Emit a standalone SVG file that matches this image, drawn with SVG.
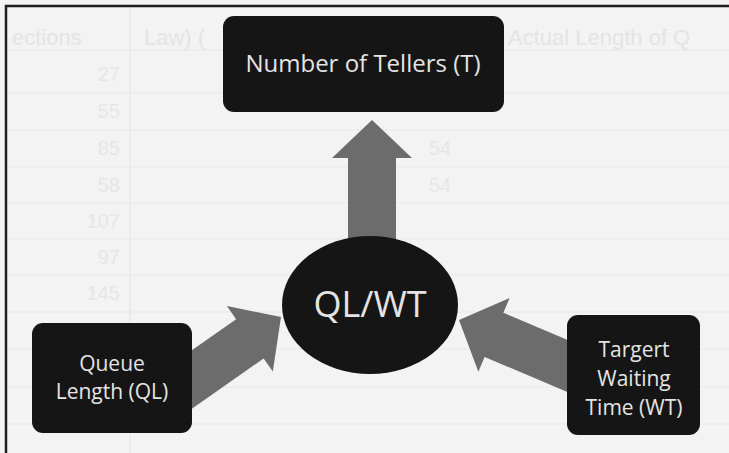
<svg xmlns="http://www.w3.org/2000/svg" width="729" height="453" viewBox="0 0 729 453">
  <defs>
    <style>
      .bg-line { stroke: #e7e7e7; stroke-width: 1.2; fill: none; }
      .bg-text { font-family: "Liberation Sans", Arial, sans-serif; font-size: 20px; fill: #e6e6e6; }
      .bg-head { font-family: "Liberation Sans", Arial, sans-serif; font-size: 22px; fill: #e4e4e4; }
      .box { fill: #151515; }
      .label { font-family: "Open Sans", "Noto Sans", sans-serif; fill: #e4e4e4; text-anchor: middle; }
      .arrow { fill: #6c6c6c; }
    </style>
    <!-- block arrow pointing along +x, tip at the origin -->
    <path id="blockArrow" d="M0,0 L-38,-40 L-38,-24 L-140,-24 L-140,24 L-38,24 L-38,40 Z"/>
  </defs>

  <!-- page background with faint table behind -->
  <rect x="0" y="0" width="729" height="453" fill="#f3f3f3"/>
  <g id="background-table">
    <line class="bg-line" x1="8" y1="50" x2="729" y2="50"/>
    <line class="bg-line" x1="8" y1="93" x2="729" y2="93"/>
    <line class="bg-line" x1="8" y1="130" x2="729" y2="130"/>
    <line class="bg-line" x1="8" y1="167" x2="729" y2="167"/>
    <line class="bg-line" x1="8" y1="203" x2="729" y2="203"/>
    <line class="bg-line" x1="8" y1="239" x2="729" y2="239"/>
    <line class="bg-line" x1="8" y1="275" x2="729" y2="275"/>
    <line class="bg-line" x1="8" y1="312" x2="729" y2="312"/>
    <line class="bg-line" x1="8" y1="349" x2="729" y2="349"/>
    <line class="bg-line" x1="8" y1="387" x2="729" y2="387"/>
    <line class="bg-line" x1="8" y1="424" x2="729" y2="424"/>
    <line class="bg-line" x1="130" y1="8" x2="130" y2="453"/>
    <text class="bg-head" x="12" y="45">ections</text>
    <text class="bg-head" x="144" y="45">Law) (</text>
    <text class="bg-head" x="508" y="45">Actual Length of Q</text>
    <g text-anchor="end">
      <text class="bg-text" x="120" y="81">27</text>
      <text class="bg-text" x="120" y="118">55</text>
      <text class="bg-text" x="120" y="155">85</text>
      <text class="bg-text" x="120" y="192">58</text>
      <text class="bg-text" x="120" y="228">107</text>
      <text class="bg-text" x="120" y="264">97</text>
      <text class="bg-text" x="120" y="300">145</text>
    </g>
    <g text-anchor="middle">
      <text class="bg-text" x="440" y="155">54</text>
      <text class="bg-text" x="440" y="192">54</text>
    </g>
  </g>

  <!-- frame -->
  <path d="M729,6 L6,6 L6,453" fill="none" stroke="#1e1e1e" stroke-width="2.5"/>

  <!-- connectors -->
  <g id="connectors">
    <use href="#blockArrow" class="arrow" transform="translate(372,120) rotate(-90)"/>
    <use href="#blockArrow" class="arrow" transform="translate(281,317) rotate(-35)"/>
    <use href="#blockArrow" class="arrow" transform="translate(459,320) rotate(203)"/>
  </g>

  <!-- nodes -->
  <g id="node-tellers">
    <rect class="box" x="223" y="16" width="281" height="96" rx="11"/>
    <text class="label" x="363" y="72" font-size="24">Number of Tellers (T)</text>
  </g>

  <g id="node-ratio">
    <ellipse cx="370" cy="305" rx="88" ry="69" fill="#151515"/>
    <text class="label" x="370" y="317" font-size="36">QL/WT</text>
  </g>

  <g id="node-queue-length">
    <rect class="box" x="32" y="323" width="160" height="110" rx="11"/>
    <text class="label" x="112" y="371" font-size="21">Queue</text>
    <text class="label" x="112" y="399" font-size="21">Length (QL)</text>
  </g>

  <g id="node-waiting-time">
    <rect class="box" x="567" y="315" width="133" height="120" rx="11"/>
    <text class="label" x="634" y="357" font-size="21">Targert</text>
    <text class="label" x="634" y="386" font-size="21">Waiting</text>
    <text class="label" x="634" y="415" font-size="21">Time (WT)</text>
  </g>
</svg>
